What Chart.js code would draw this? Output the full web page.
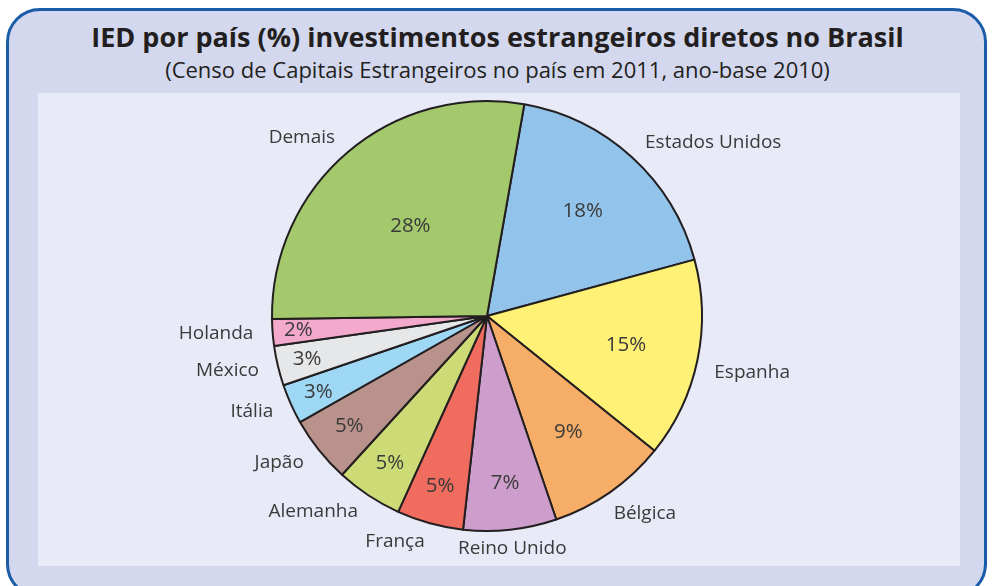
<!DOCTYPE html>
<html>
<head>
<meta charset="utf-8">
<script src="https://cdn.jsdelivr.net/npm/chart.js@4.4.1/dist/chart.umd.min.js"></script>
<style>
  html, body { margin: 0; padding: 0; background: #fff; }
  body { width: 995px; height: 586px; overflow: hidden; position: relative; font-family: "Open Sans", "Noto Sans", sans-serif; }
  #frame {
    position: absolute; left: 6px; top: 8px; width: 981px; height: 590px;
    background: #d3d8ee; border: 3px solid #1a5ca8; border-radius: 34px; box-sizing: border-box;
  }
  #title { position: absolute; left: 0; top: 17px; width: 995px; text-align: center;
    font-size: 27px; line-height: 40px; font-weight: bold; color: #231f20; }
  #subtitle { position: absolute; left: 0; top: 54px; width: 995px; text-align: center;
    font-size: 22px; line-height: 30px; color: #231f20; }
  #panel { position: absolute; left: 38px; top: 93px; width: 922px; height: 473px; background: #e8eaf7; }
  #panel canvas { position: absolute; left: 0; top: 0; }
</style>
</head>
<body>
<div id="frame"></div>
<div id="title">IED por país (%) investimentos estrangeiros diretos no Brasil</div>
<div id="subtitle">(Censo de Capitais Estrangeiros no país em 2011, ano-base 2010)</div>
<div id="panel"><canvas id="pizza" width="922" height="473"></canvas></div>
<script>
// dados (sentido horário a partir de Estados Unidos)
const paises = ['Estados Unidos', 'Espanha', 'Bélgica', 'Reino Unido', 'França', 'Alemanha',
                'Japão', 'Itália', 'México', 'Holanda', 'Demais'];
const valores = [18, 15, 9, 7, 5, 5, 5, 3, 3, 2, 28];
const cores = ['#92c3ea', '#fff176', '#f6ad67', '#cd9dcb', '#ef6c5f', '#cddb77',
               '#b8928b', '#9fd8f5', '#e6e7e8', '#f3a9cb', '#a3c96c'];

const corTexto = '#3a3a3a';

// rótulos: percentual dentro da fatia, nome do país fora
const rotulos = {
    id: 'rotulos',
    afterDatasetsDraw(chart) {
        const ctx = chart.ctx;
        const meta = chart.getDatasetMeta(0);
        ctx.save();
        ctx.fillStyle = corTexto;
        ctx.textBaseline = 'middle';
        meta.data.forEach((arc, i) => {
            const v = valores[i];
            const meio = (arc.startAngle + arc.endAngle) / 2;
            const R = arc.outerRadius;
            const cos = Math.cos(meio), sin = Math.sin(meio);

            // percentual
            let f;
            if (v >= 20) f = 0.55;
            else if (v >= 9) f = 0.66;
            else f = 0.92 - v * 0.02;
            ctx.font = '20.5px "Open Sans", "Noto Sans", sans-serif';
            ctx.textAlign = 'center';
            ctx.fillText(v + '%', arc.x + cos * R * f, arc.y + sin * R * f);

            // nome (levemente girado no sentido horário, como no original)
            const a = meio + (cos > 0.3 && sin > 0 ? 0.04 : 0);
            const rx = arc.x + Math.cos(a) * R * 1.09;
            const ry = arc.y + Math.sin(a) * R * 1.09;
            if (Math.abs(cos) < 0.15) ctx.textAlign = 'center';
            else ctx.textAlign = cos > 0 ? 'left' : 'right';
            ctx.font = '19px "Open Sans", "Noto Sans", sans-serif';
            ctx.fillText(paises[i], rx, ry);
        });
        ctx.restore();
    }
};

new Chart(document.getElementById('pizza'), {
    type: 'pie',
    data: {
        labels: paises,
        datasets: [{
            data: valores,
            backgroundColor: cores,
            borderColor: '#231f20',
            borderWidth: 2
        }]
    },
    options: {
        responsive: false,
        animation: false,
        rotation: 10,
        layout: { padding: { left: 233, right: 257, top: 6, bottom: 33 } },
        plugins: {
            legend: { display: false },
            tooltip: { enabled: false }
        }
    },
    plugins: [rotulos]
});
</script>
</body>
</html>
